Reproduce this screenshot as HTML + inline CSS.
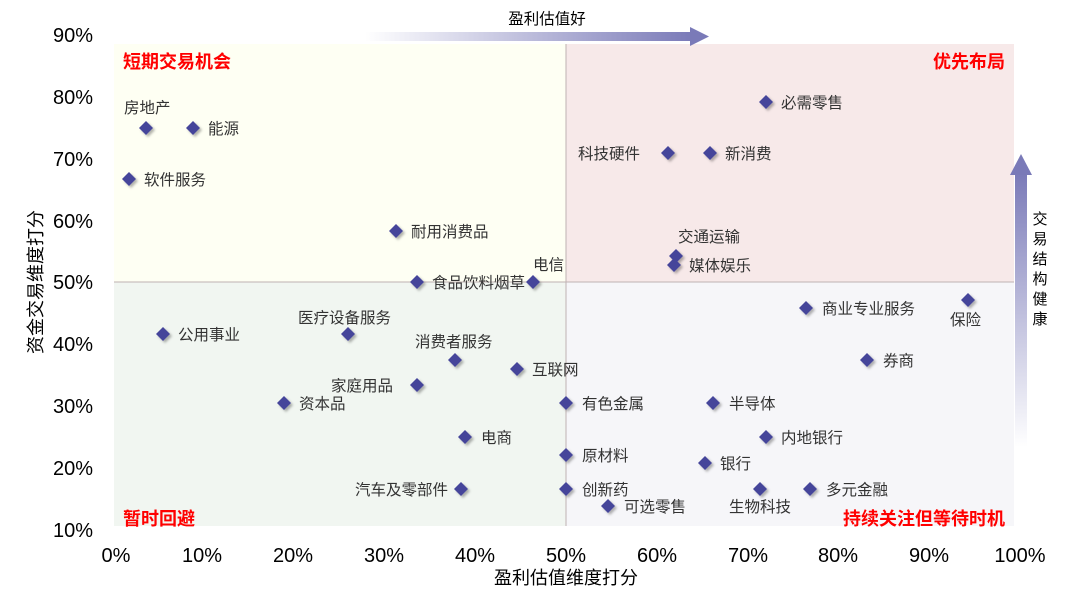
<!DOCTYPE html>
<html><head><meta charset="utf-8"><style>
body{margin:0;width:1080px;height:592px;background:#fff;overflow:hidden;font-family:"Liberation Sans","Noto Sans CJK SC",sans-serif}
</style></head><body>
<svg width="1080" height="592" xmlns="http://www.w3.org/2000/svg" style="position:absolute;left:0;top:0">
<defs>
<linearGradient id="gh" x1="0" x2="1" y1="0" y2="0"><stop offset="0" stop-color="#7a7ab8" stop-opacity="0"/><stop offset="1" stop-color="#7a7ab8"/></linearGradient>
<linearGradient id="gv" x1="0" x2="0" y1="1" y2="0"><stop offset="0" stop-color="#7a7ab8" stop-opacity="0"/><stop offset="1" stop-color="#7a7ab8"/></linearGradient>
<filter id="sh" x="-50%" y="-50%" width="200%" height="200%"><feDropShadow dx="2" dy="2" stdDeviation="1.2" flood-color="#000" flood-opacity="0.3"/></filter>
</defs>
<rect x="114" y="44" width="452" height="238" fill="#fefff3"/>
<rect x="566" y="44" width="448" height="238" fill="#f7e9e9"/>
<rect x="114" y="282" width="452" height="244" fill="#f1f6f1"/>
<rect x="566" y="282" width="448" height="244" fill="#f6f6f9"/>
<line x1="566" y1="44" x2="566" y2="526" stroke="#bfb2b2" stroke-width="1"/>
<line x1="114" y1="282" x2="1014" y2="282" stroke="#bfb2b2" stroke-width="1"/>
<rect x="365" y="32" width="328" height="9" fill="url(#gh)"/>
<polygon points="690,27 709,36.5 690,46" fill="#7a7ab8"/>
<rect x="1015" y="172" width="12" height="275" fill="url(#gv)"/>
<polygon points="1010,175 1021,154 1032,175" fill="#7a7ab8"/>
<text x="547" y="24" font-size="15.5" fill="#000" text-anchor="middle">盈利估值好</text>
<g font-size="15" fill="#000" text-anchor="middle">
<text x="1040" y="224">交</text><text x="1040" y="244">易</text><text x="1040" y="264">结</text><text x="1040" y="284">构</text><text x="1040" y="304">健</text><text x="1040" y="324">康</text>
</g>
<g font-size="20" fill="#000" text-anchor="end">
<text x="93" y="42">90%</text><text x="93" y="104">80%</text><text x="93" y="166">70%</text><text x="93" y="228">60%</text><text x="93" y="289">50%</text><text x="93" y="351">40%</text><text x="93" y="413">30%</text><text x="93" y="475">20%</text><text x="93" y="537">10%</text>
</g>
<g font-size="20" fill="#000" text-anchor="middle">
<text x="116" y="562">0%</text><text x="202" y="562">10%</text><text x="293" y="562">20%</text><text x="384" y="562">30%</text><text x="475" y="562">40%</text><text x="566" y="562">50%</text><text x="657" y="562">60%</text><text x="748" y="562">70%</text><text x="838" y="562">80%</text><text x="929" y="562">90%</text><text x="1020" y="562">100%</text>
</g>
<text x="566" y="584" font-size="18" text-anchor="middle" fill="#000">盈利估值维度打分</text>
<text transform="translate(42,282) rotate(-90)" font-size="18" text-anchor="middle" fill="#000">资金交易维度打分</text>
<g font-size="18" fill="#ff0000" font-weight="bold">
<text x="123" y="68">短期交易机会</text>
<text x="1005" y="68" text-anchor="end">优先布局</text>
<text x="123" y="525">暂时回避</text>
<text x="1005" y="525" text-anchor="end">持续关注但等待时机</text>
</g>
<g fill="#45459a" filter="url(#sh)">
<path d="M146,121l7,7-7,7-7-7z"/><path d="M193,121l7,7-7,7-7-7z"/><path d="M129,172l7,7-7,7-7-7z"/>
<path d="M396,224l7,7-7,7-7-7z"/><path d="M417,275l7,7-7,7-7-7z"/><path d="M533,275l7,7-7,7-7-7z"/>
<path d="M163,327l7,7-7,7-7-7z"/><path d="M348,327l7,7-7,7-7-7z"/><path d="M455,353l7,7-7,7-7-7z"/>
<path d="M517,362l7,7-7,7-7-7z"/><path d="M417,378l7,7-7,7-7-7z"/><path d="M284,396l7,7-7,7-7-7z"/>
<path d="M465,430l7,7-7,7-7-7z"/><path d="M566,396l7,7-7,7-7-7z"/><path d="M566,448l7,7-7,7-7-7z"/>
<path d="M566,482l7,7-7,7-7-7z"/><path d="M461,482l7,7-7,7-7-7z"/><path d="M608,499l7,7-7,7-7-7z"/>
<path d="M766,95l7,7-7,7-7-7z"/><path d="M668,146l7,7-7,7-7-7z"/><path d="M710,146l7,7-7,7-7-7z"/>
<path d="M676,249l7,7-7,7-7-7z"/><path d="M674,258l7,7-7,7-7-7z"/><path d="M806,301l7,7-7,7-7-7z"/>
<path d="M968,293l7,7-7,7-7-7z"/><path d="M867,353l7,7-7,7-7-7z"/><path d="M713,396l7,7-7,7-7-7z"/>
<path d="M766,430l7,7-7,7-7-7z"/><path d="M705,456l7,7-7,7-7-7z"/><path d="M760,482l7,7-7,7-7-7z"/>
<path d="M810,482l7,7-7,7-7-7z"/>
</g>
<g font-size="15.5" fill="#333">
<text x="124" y="113">房地产</text><text x="208" y="134">能源</text><text x="144" y="185">软件服务</text>
<text x="411" y="237">耐用消费品</text><text x="432" y="288">食品饮料烟草</text><text x="533" y="270">电信</text>
<text x="178" y="340">公用事业</text><text x="298" y="323">医疗设备服务</text><text x="415" y="347">消费者服务</text>
<text x="532" y="375">互联网</text><text x="331" y="391">家庭用品</text><text x="299" y="409">资本品</text>
<text x="481" y="443">电商</text><text x="582" y="409">有色金属</text><text x="582" y="461">原材料</text>
<text x="582" y="495">创新药</text><text x="355" y="495">汽车及零部件</text><text x="624" y="512">可选零售</text>
<text x="781" y="108">必需零售</text><text x="578" y="159">科技硬件</text><text x="725" y="159">新消费</text>
<text x="678" y="242">交通运输</text><text x="689" y="271">媒体娱乐</text><text x="822" y="314">商业专业服务</text>
<text x="950" y="325">保险</text><text x="883" y="366">券商</text><text x="729" y="409">半导体</text>
<text x="781" y="443">内地银行</text><text x="720" y="469">银行</text><text x="729" y="512">生物科技</text>
<text x="826" y="495">多元金融</text>
</g>
</svg>
</body></html>
